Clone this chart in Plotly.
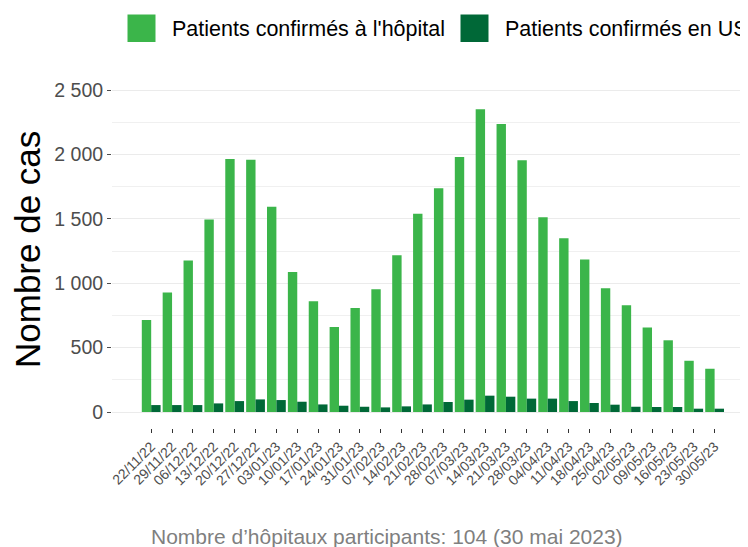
import plotly.graph_objects as go

# ---- data ----
dates = ["22/11/22", "29/11/22", "06/12/22", "13/12/22", "20/12/22", "27/12/22",
         "03/01/23", "10/01/23", "17/01/23", "24/01/23", "31/01/23", "07/02/23",
         "14/02/23", "21/02/23", "28/02/23", "07/03/23", "14/03/23", "21/03/23",
         "28/03/23", "04/04/23", "11/04/23", "18/04/23", "25/04/23", "02/05/23",
         "09/05/23", "16/05/23", "23/05/23", "30/05/23"]
hospital = [715, 928, 1176, 1494, 1964, 1958, 1593, 1087, 860, 660, 807, 953,
            1217, 1540, 1737, 1981, 2351, 2237, 1955, 1512, 1349, 1185, 961, 829,
            657, 557, 398, 336]
icu = [54, 54, 54, 67, 85, 98, 93, 80, 59, 49, 41, 36, 44, 59, 78, 96, 127, 119,
       104, 104, 85, 70, 57, 41, 39, 39, 26, 26]
series_names = ["Patients confirmés à l'hôpital", "Patients confirmés en USI"]
series_colors = ["#3BB54A", "#006837"]
y_ticks = [0, 500, 1000, 1500, 2000, 2500]
y_title = "Nombre de cas"
caption = "Nombre d’hôpitaux participants: 104 (30 mai 2023)"

FONT = "Liberation Sans, Arial, sans-serif"
OFF = 8  # page body margin
W, H = 748 - OFF, 547 - OFF
ML, MR, MT = 112 - OFF, 0, 72 - OFF
PB = 428 - OFF  # plot bottom in figure pixels
MB = H - PB
PW, PH = W - ML - MR, H - MT - MB


def px_x(x):
    return (x - OFF - ML) / PW


def px_y(y):
    return (PB - (y - OFF)) / PH


fig = go.Figure()
for name, vals, col in zip(series_names, [hospital, icu], series_colors):
    fig.add_trace(go.Bar(x=dates, y=vals, name=name, marker_color=col,
                         marker_line_width=0, showlegend=False))

fig.update_layout(
    width=W, height=H,
    margin=dict(l=ML, r=MR, t=MT, b=MB),
    plot_bgcolor="white", paper_bgcolor="white",
    barmode="group", bargap=0.1, bargroupgap=0,
    separators=", ",
    font=dict(family=FONT, color="#4D4D4D"),
)
fig.update_xaxes(
    type="category", range=[-1.878, 28.6],
    showgrid=False, zeroline=False, showline=False,
    ticks="outside", ticklen=4, tickwidth=1, tickcolor="#333333",
    tickangle=-45, tickfont=dict(size=14, color="#4D4D4D", family=FONT),
)
fig.update_yaxes(
    range=[-124, 2640], tickvals=y_ticks, tickformat=",d",
    showgrid=True, gridcolor="#EBEBEB", gridwidth=1,
    minor=dict(dtick=250, tick0=0, showgrid=True, gridcolor="#F0F0F0", gridwidth=0.8),
    zeroline=False, showline=False,
    ticks="outside", ticklen=4, tickwidth=1, tickcolor="#4D4D4D",
    tickfont=dict(size=19.5, color="#4D4D4D", family=FONT),
)

# y title
fig.add_annotation(text=y_title, xref="paper", yref="paper",
                   x=px_x(27), y=0.5, xanchor="center", yanchor="middle",
                   textangle=-90, showarrow=False,
                   font=dict(size=35, color="black", family=FONT))
# caption
fig.add_annotation(text=caption, xref="paper", yref="paper",
                   x=px_x(387), y=px_y(536),
                   xanchor="center", yanchor="middle", showarrow=False,
                   font=dict(size=21, color="#7F7F7F", family=FONT))

# legend (drawn manually, top)
leg_x = [127.5, 460.5]
for lx, name, col in zip(leg_x, series_names, series_colors):
    fig.add_shape(type="rect", xref="paper", yref="paper",
                  x0=px_x(lx), x1=px_x(lx + 28), y0=px_y(42), y1=px_y(14.5),
                  fillcolor=col, line=dict(width=0))
    fig.add_annotation(text=name, xref="paper", yref="paper",
                       x=px_x(lx + 42), y=px_y(28.5),
                       xanchor="left", yanchor="middle", showarrow=False,
                       font=dict(size=21.5, color="black", family=FONT))

fig.write_html("out.html")
